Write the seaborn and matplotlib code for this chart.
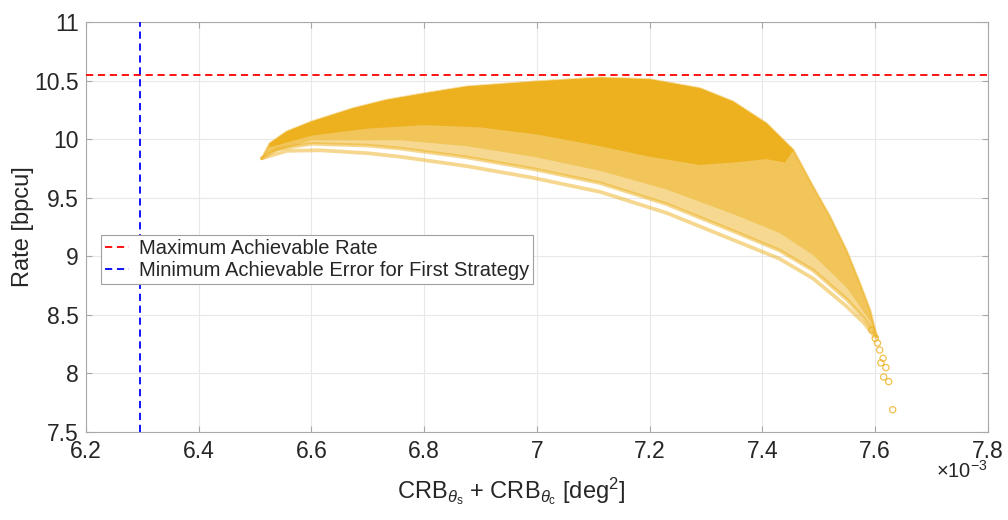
import numpy as np
import pandas as pd
import matplotlib
matplotlib.use("Agg")
import matplotlib.pyplot as plt
from matplotlib.ticker import FuncFormatter, MultipleLocator
import seaborn as sns

# ---------------- data (x in units of 1e-3 deg^2) ----------------
# upper envelope of the achievable region
top_x = [6.512, 6.526, 6.556, 6.600, 6.674, 6.733, 6.800, 6.875, 6.993, 7.112,
         7.200, 7.289, 7.348, 7.407, 7.455, 7.490, 7.520, 7.549, 7.573, 7.591, 7.603]
top_y = [9.836, 9.964, 10.064, 10.149, 10.263, 10.334, 10.390, 10.448, 10.490, 10.525,
         10.510, 10.434, 10.320, 10.135, 9.907, 9.594, 9.338, 9.053, 8.769, 8.541, 8.314]

# lower edge of the medium-density band
mid_x = [6.520, 6.600, 6.757, 6.875, 6.993, 7.112, 7.230, 7.348, 7.430, 7.490,
         7.550, 7.590, 7.603]
mid_lo = [9.870, 9.990, 9.990, 9.940, 9.850, 9.730, 9.570, 9.360, 9.200, 9.010,
          8.730, 8.450, 8.314]

# lower edge of the densest (solid) core
core_x = [6.526, 6.600, 6.700, 6.800, 6.900, 7.000, 7.112, 7.200, 7.289, 7.348,
          7.407, 7.440, 7.455]
core_lo = [9.930, 10.030, 10.090, 10.120, 10.100, 10.040, 9.940, 9.850, 9.780, 9.800,
           9.830, 9.800, 9.907]

# second-lowest curve (lower edge of the dense band)
arc2_x = [6.512, 6.540, 6.600, 6.700, 6.757, 6.875, 6.993, 7.112, 7.230, 7.348,
          7.430, 7.490, 7.550, 7.580, 7.603]
arc2_y = [9.836, 9.915, 9.960, 9.945, 9.920, 9.845, 9.745, 9.625, 9.445, 9.215,
          9.050, 8.880, 8.630, 8.470, 8.314]

# lowest curve
low_x = [6.512, 6.556, 6.615, 6.700, 6.757, 6.875, 6.993, 7.112, 7.230, 7.348,
         7.430, 7.490, 7.550, 7.580, 7.600]
low_y = [9.836, 9.900, 9.905, 9.880, 9.850, 9.770, 9.670, 9.550, 9.370, 9.140,
         8.980, 8.810, 8.570, 8.430, 8.310]

# isolated end points of the curves
tail_x = [7.594, 7.600, 7.604, 7.608, 7.614, 7.610, 7.619, 7.615, 7.624, 7.631]
tail_y = [8.370, 8.300, 8.260, 8.200, 8.130, 8.090, 8.050, 7.970, 7.930, 7.690]

max_rate = 10.55
min_error = 6.296  # x 1e-3

SCALE = 1e-3
GOLD = "#EDB120"
GOLD_MID = "#F1C55A"
GOLD_LIGHT = "#F6D890"

# ---------------- figure ----------------
sns.set_theme(style="whitegrid")
plt.rcParams["font.family"] = ["Liberation Sans", "DejaVu Sans"]
plt.rcParams["mathtext.fontset"] = "custom"
plt.rcParams["mathtext.rm"] = "Liberation Sans"
plt.rcParams["mathtext.it"] = "Liberation Sans:italic"

fig = plt.figure(figsize=(10.08, 5.2), dpi=100)
ax = fig.add_axes([0.0853, 0.1692, 0.8948, 0.7885])
ax.set_facecolor("white")

tx = np.array(top_x) * SCALE
ty = np.array(top_y)

def region(lo_x, lo_y, top_slice, color, z):
    lx_ = np.array(lo_x) * SCALE
    ly_ = np.array(lo_y)
    ax.fill(np.r_[tx[top_slice], lx_[::-1]], np.r_[ty[top_slice], ly_[::-1]],
            color=color, lw=0, zorder=z)

region(arc2_x, arc2_y, slice(0, None), GOLD_LIGHT, 2)
region(mid_x, mid_lo, slice(0, None), GOLD_MID, 2.1)
region(core_x, core_lo, slice(1, 15), GOLD, 2.2)

curves = pd.DataFrame({
    "x": np.r_[np.array(arc2_x), np.array(low_x)] * SCALE,
    "y": np.r_[arc2_y, low_y],
    "curve": ["arc2"] * len(arc2_x) + ["low"] * len(low_x),
})
for name, grp in curves.groupby("curve"):
    sns.lineplot(data=grp, x="x", y="y", sort=False, estimator=None, color=GOLD,
                 alpha=0.5, lw=2.7, ax=ax, zorder=3)
sns.lineplot(x=tx, y=ty, sort=False, estimator=None, color=GOLD, alpha=0.5, lw=1.6,
             ax=ax, zorder=3)

sns.scatterplot(x=np.array(tail_x) * SCALE, y=tail_y, marker="o", s=20,
                facecolor="none", edgecolor=GOLD, linewidth=0.9, alpha=0.8,
                ax=ax, zorder=4, legend=False)

ax.axhline(max_rate, color="#FF0000", lw=1.3, ls=(0, (4, 2.6)), zorder=5,
           label="Maximum Achievable Rate")
ax.axvline(min_error * SCALE, color="#0000FF", lw=1.3, ls=(0, (4, 2.6)), zorder=5,
           label="Minimum Achievable Error for First Strategy")

ax.set_xlim(6.2e-3, 7.8e-3)
ax.set_ylim(7.5, 11)
ax.xaxis.set_major_locator(MultipleLocator(0.2e-3))
ax.yaxis.set_major_locator(MultipleLocator(0.5))
ax.xaxis.set_major_formatter(FuncFormatter(lambda v, p: f"{v * 1e3:g}"))
ax.yaxis.set_major_formatter(FuncFormatter(lambda v, p: f"{v:g}"))

ax.grid(True, color="#e8e8e8", lw=0.8)
ax.set_axisbelow(True)
for sp in ax.spines.values():
    sp.set_color("#a8a8a8")
    sp.set_linewidth(0.8)
ax.tick_params(direction="in", length=4, width=0.8, color="#a8a8a8",
               labelsize=16.5, labelcolor="#262626", top=True, right=True,
               bottom=True, left=True)
ax.tick_params(axis="x", pad=6)
ax.tick_params(axis="y", pad=5)

ax.set_xlabel(r"CRB$_{\theta_{\rm s}}$ + CRB$_{\theta_{\rm c}}$ [deg$^2$]", fontsize=17,
              color="#262626")
ax.xaxis.set_label_coords(0.471, -0.105, transform=ax.transAxes)
ax.xaxis.label.set_va("top")
ax.set_ylabel("Rate [bpcu]", fontsize=17, color="#262626")
ax.yaxis.set_label_coords(-0.058, 0.5, transform=ax.transAxes)
ax.text(1.0, -0.112, r"$\times$10$^{-3}$", transform=ax.transAxes, ha="right",
        va="baseline", fontsize=14.5, color="#262626")

leg = ax.legend(loc="upper left", bbox_to_anchor=(0.0166, 0.48), fontsize=14.5,
                frameon=True, fancybox=False, edgecolor="#a0a0a0", framealpha=1,
                handlelength=1.2, borderpad=0.2, labelspacing=0.12,
                handletextpad=0.5, borderaxespad=0)
leg.get_frame().set_linewidth(0.8)

fig.savefig("out.png", dpi=100)
